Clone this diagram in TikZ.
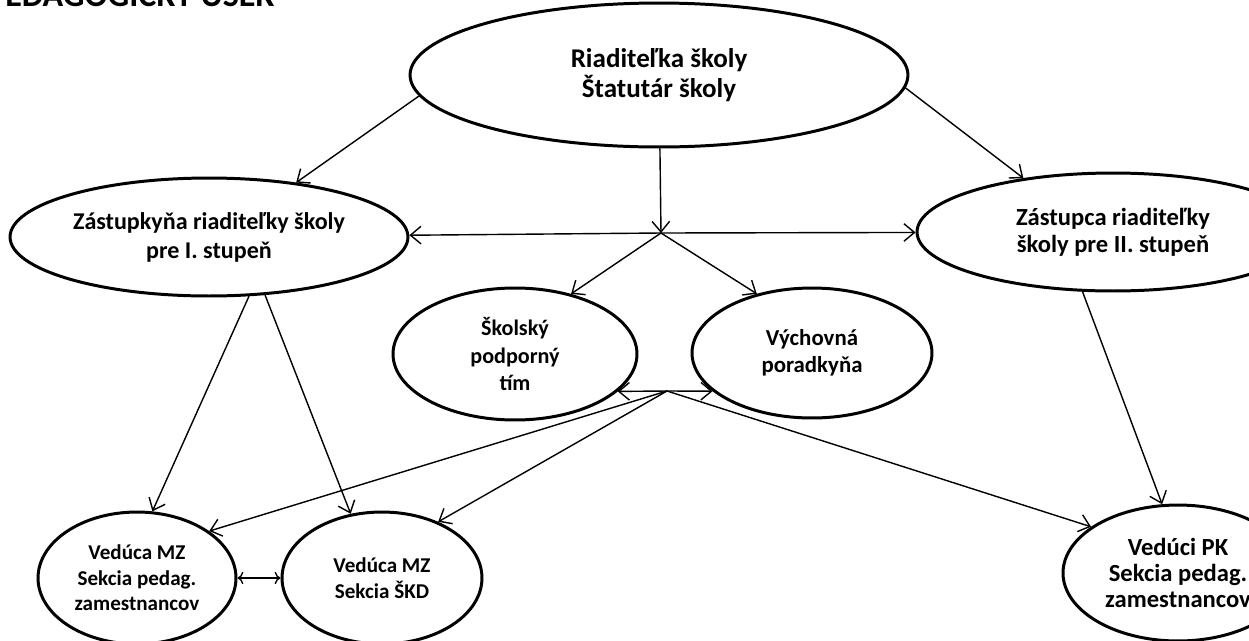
\documentclass[tikz,border=0pt]{standalone}
\usepackage{fontspec}
\setmainfont{Carlito}
\usetikzlibrary{shapes.geometric,arrows.meta}

\begin{document}
\begin{tikzpicture}[x=0.02cm,y=-0.02cm,
		unit/.style={ellipse,draw,line width=1.7pt,inner sep=0,align=center,font=\bfseries\fontsize{12}{14.5}\selectfont},
		link/.style={-{Straight Barb[length=6pt,width=10pt]},line width=0.8pt}]
		\useasboundingbox (0,0) rectangle (1249,640);
		\clip (0,0) rectangle (1249,640);
		\node [anchor=base west,inner sep=0,font=\bfseries\fontsize{19.4}{22}\selectfont] (title) at (5,6) {EDAGOGICKÝ ÚSEK};
		\node [unit,minimum width=9.96cm,minimum height=2.88cm,font=\bfseries\fontsize{15.4}{17}\selectfont] (riad) at (659,75) {Riaditeľka školy\\Štatutár školy};
		\node [unit,minimum width=7.96cm,minimum height=2.36cm,font=\bfseries\fontsize{13.7}{16.5}\selectfont] (zastI) at (209,237) {Zástupkyňa riaditeľky školy\\pre I. stupeň};
		\node [unit,minimum width=7.84cm,minimum height=2.36cm,font=\bfseries\fontsize{14}{15.4}\selectfont] (zastII) at (1113,232) {Zástupca riaditeľky\\školy pre II. stupeň};
		\node [unit,minimum width=4.88cm,minimum height=2.64cm,font=\bfseries\fontsize{12.6}{15.4}\selectfont] (spt) at (515,354) {Školský\\podporný\\tím};
		\node [unit,minimum width=4.8cm,minimum height=2.6cm,font=\bfseries\fontsize{13}{15.4}\selectfont] (vp) at (812,353) {Výchovná\\poradkyňa};
		\node [unit,minimum width=3.96cm,minimum height=2.64cm] (vmz1) at (137,578) {Vedúca MZ\\Sekcia pedag.\\zamestnancov};
		\node [unit,minimum width=4cm,minimum height=2.64cm] (vmz2) at (382,578) {Vedúca MZ\\Sekcia ŠKD};
		\node [unit,minimum width=4.6cm,minimum height=2.72cm,font=\bfseries\fontsize{14}{15}\selectfont] (vpk) at (1178,573) {Vedúci PK\\Sekcia pedag.\\zamestnancov};
		\coordinate (hubA) at (661,233);
		\coordinate (hubB) at (667,391);
		\draw [link] (riad.185) -- (zastI.32);
		\draw [link] (riad.-3) -- (zastII.149);
		\draw [link] (riad) -- (hubA);
		\draw [link] (hubA) -- (zastI);
		\draw [link] (hubA) -- (zastII);
		\draw [link] (hubA) -- (spt.47);
		\draw [link] (hubA) -- (vp.133);
		\draw [link] (hubB) -- (spt.-20);
		\draw [link] (hubB) -- (vp.201);
		\draw [link] (hubB) -- (vmz1.33);
		\draw [link] (hubB) -- (vmz2.45);
		\draw [link] (hubB) -- (vpk.152);
		\draw [link] (zastI.-56) -- (vmz1.77);
		\draw [link] (zastI.-46) -- (vmz2.116);
		\draw [link] (zastII.243) -- (vpk.103);
		\draw [link,<->] (vmz1) -- (vmz2);
	\end{tikzpicture}
\end{document}
